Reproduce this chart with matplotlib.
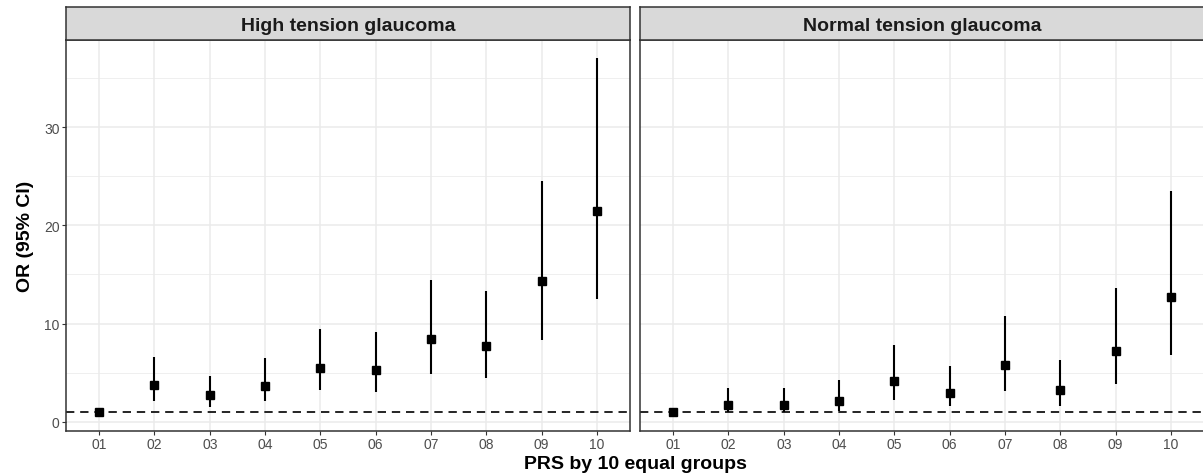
import matplotlib
matplotlib.use("Agg")
import matplotlib.pyplot as plt
import numpy as np

plt.rcParams['font.family'] = ['Liberation Sans', 'DejaVu Sans']

# Data
groups = ['01', '02', '03', '04', '05', '06', '07', '08', '09', '10']

htg_or = [1.0, 3.8, 2.7, 3.7, 5.45, 5.25, 8.4, 7.7, 14.3, 21.5]
htg_lo = [1.0, 2.15, 1.5, 2.1, 3.2, 3.0, 4.85, 4.5, 8.35, 12.55]
htg_hi = [1.0, 6.65, 4.7, 6.55, 9.5, 9.1, 14.45, 13.3, 24.5, 37.0]

ntg_or = [1.0, 1.75, 1.75, 2.15, 4.15, 2.9, 5.8, 3.3, 7.2, 12.7]
ntg_lo = [1.0, 1.0, 1.0, 1.15, 2.25, 1.6, 3.1, 1.65, 3.85, 6.8]
ntg_hi = [1.0, 3.5, 3.45, 4.3, 7.8, 5.7, 10.8, 6.3, 13.6, 23.5]

panels = [("High tension glaucoma", htg_or, htg_lo, htg_hi),
          ("Normal tension glaucoma", ntg_or, ntg_lo, ntg_hi)]

W, H = 1203, 477
fig = plt.figure(figsize=(W / 100, H / 100), dpi=100)

border = '#333333'
x = np.arange(len(groups))
lefts = [66, 640]
pw = 564
ax_bot, ax_top = 432, 41
strip_top = 8

for (title, orv, lo, hi), left in zip(panels, lefts):
    ax = fig.add_axes([left / W, 1 - ax_bot / H, pw / W, (ax_bot - ax_top) / H])
    ax.set_xlim(-0.6, len(groups) - 0.4)
    ax.set_ylim(-0.92, 38.85)
    ax.set_yticks([0, 10, 20, 30])
    ax.set_yticks([5, 15, 25, 35], minor=True)
    ax.set_xticks(x)
    ax.set_xticklabels(groups)
    ax.grid(True, which='major', color='#EBEBEB', linewidth=1.1)
    ax.grid(True, which='minor', axis='y', color='#EBEBEB', linewidth=0.55)
    ax.set_axisbelow(True)
    for s in ax.spines.values():
        s.set_color(border)
        s.set_linewidth(1.1)
    ax.tick_params(which='major', length=3, width=0.8, color=border,
                   labelcolor='#4D4D4D', labelsize=10, pad=1.5)
    ax.tick_params(which='minor', length=0)
    if left != lefts[0]:
        ax.tick_params(axis='y', labelleft=False, length=0)
    else:
        ax.set_ylabel('OR (95% CI)', fontsize=14, fontweight='bold', labelpad=7)

    ax.axhline(1, color='black', linewidth=1.2, linestyle=(0, (5, 3.5)), zorder=2)
    ax.vlines(x, lo, hi, color='black', linewidth=1.5, zorder=3)
    ax.plot(x, orv, 's', color='black', markersize=6, zorder=4)

    sax = fig.add_axes([left / W, 1 - ax_top / H, pw / W, (ax_top - strip_top) / H])
    sax.set_facecolor('#D9D9D9')
    sax.set_xticks([])
    sax.set_yticks([])
    for s in sax.spines.values():
        s.set_color(border)
        s.set_linewidth(1.1)
    sax.text(0.5, 0.44, title, ha='center', va='center', fontsize=14,
             fontweight='bold', color='#1A1A1A', transform=sax.transAxes)

fig.text(635 / W, 1 - 465 / H, 'PRS by 10 equal groups', ha='center', va='center',
         fontsize=14, fontweight='bold')

fig.savefig('out.png', dpi=100, facecolor='white')
